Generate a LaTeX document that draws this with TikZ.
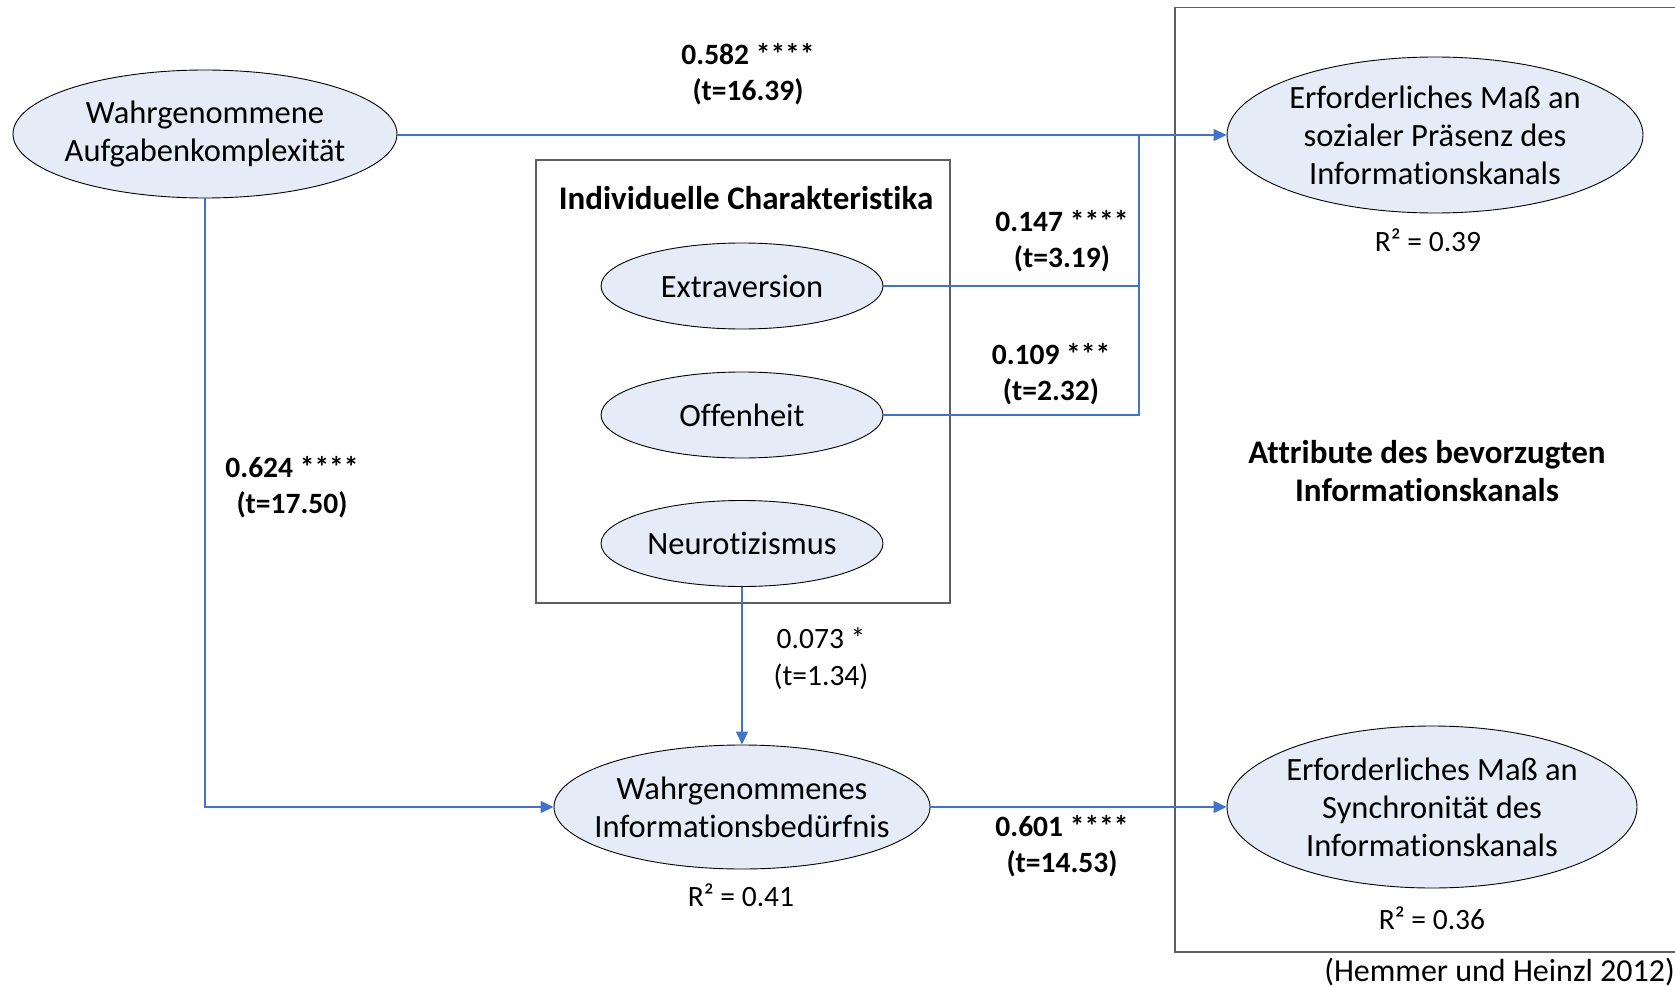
\documentclass[tikz,border=0pt]{standalone}
\usepackage{fontspec}
\setmainfont{Carlito}[Ligatures=NoCommon]
\usetikzlibrary{shapes.geometric,arrows.meta}
\definecolor{ellfill}{RGB}{230,236,247}
\definecolor{linkblue}{RGB}{68,114,196}
\definecolor{framegray}{RGB}{95,95,95}
\begin{document}
\begin{tikzpicture}[x=1pt,y=-1pt,
  lat/.style={ellipse, draw=black, line width=0.9pt, fill=ellfill, inner sep=0pt},
  lattext/.style={align=center, inner sep=0pt, font=\fontsize{32.5}{38}\selectfont},
  coef/.style={align=center, inner sep=0pt, font=\bfseries\fontsize{29.5}{36}\selectfont},
  coefn/.style={align=center, inner sep=0pt, font=\fontsize{29.5}{37}\selectfont},
  rsq/.style={inner sep=0pt, font=\fontsize{29.5}{36}\selectfont},
  ttl/.style={align=center, inner sep=0pt, font=\bfseries\fontsize{33}{38}\selectfont},
  link/.style={draw=linkblue, line width=1.3pt},
  arr/.style={link, -{Triangle[length=13pt,width=12pt]}},
  boxframe/.style={draw=framegray, line width=1.4pt}
]
\useasboundingbox (0,0) rectangle (1675,987);
\clip (0,0) rectangle (1675,987);

% frames
\draw[boxframe] (536,160) rectangle (950,603);
\draw[boxframe] (1175,7.5) rectangle (1700,952);

% latent variables
\node[lat, minimum width=384pt, minimum height=128pt,
  label={[lattext]center:Wahrgenommene\\Aufgabenkomplexität}] (e1) at (205,134) {};
\node[lat, minimum width=416pt, minimum height=156pt,
  label={[lattext]center:Erforderliches Maß an\\sozialer Präsenz des\\Informationskanals}] (e2) at (1435,135) {};
\node[lat, minimum width=376pt, minimum height=124pt,
  label={[lattext]center:Wahrgenommenes\\Informationsbedürfnis}] (e3) at (742,807) {};
\node[lat, minimum width=410pt, minimum height=162pt,
  label={[lattext]center:Erforderliches Maß an\\Synchronität des\\Informationskanals}] (e4) at (1432,807) {};
\node[lat, minimum width=282pt, minimum height=86pt,
  label={[lattext]center:Extraversion}] (ext) at (742,286) {};
\node[lat, minimum width=282pt, minimum height=86pt,
  label={[lattext]center:Offenheit}] (off) at (742,415) {};
\node[lat, minimum width=282pt, minimum height=86pt,
  label={[lattext]center:Neurotizismus}] (neu) at (742,543.5) {};

% titles
\node[ttl] (t1) at (746,198) {Individuelle Charakteristika};
\node[ttl] (t2) at (1427,471) {Attribute des bevorzugten\\Informationskanals};

% connectors
\coordinate (jx) at (1139,135);
\draw[arr] (e1.east |- jx) -- (e2.west);
\draw[link] (ext.east) -- (ext.east -| jx);
\draw[link] (off.east) -- (off.east -| jx) -- (jx);
\draw[arr] (neu.south) -- (e3.north);
\draw[arr] (e1.south) |- (e3.west);
\draw[arr] (e3.east) -- (e4.west);

% coefficients
\node[coef] (c1) at (748,74) {0.582 ****\\(t=16.39)};
\node[coef] (c2) at (1062,241) {0.147 ****\\(t=3.19)};
\node[coef] (c3) at (1051,374) {0.109 ***\\(t=2.32)};
\node[coef] (c4) at (292,487) {0.624 ****\\(t=17.50)};
\node[coefn] (c5) at (821,659) {0.073 *\\(t=1.34)};
\node[coef] (c6) at (1062,846) {0.601 ****\\(t=14.53)};

% R squared
\node[rsq] (r1) at (1428,240) {R² = 0.39};
\node[rsq] (r2) at (741,895) {R² = 0.41};
\node[rsq] (r3) at (1432,918) {R² = 0.36};

% source
\node[inner sep=0pt, anchor=east, font=\fontsize{32}{38}\selectfont] (src) at (1675,972) {(Hemmer und Heinzl 2012)};
\end{tikzpicture}
\end{document}
